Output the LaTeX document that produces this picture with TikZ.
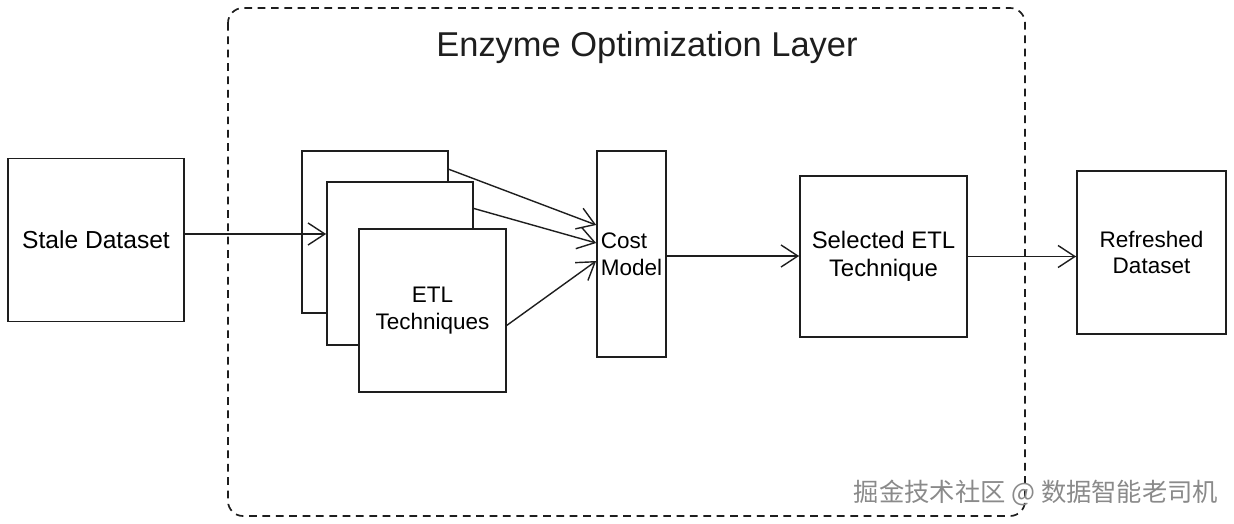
\documentclass[tikz,border=0pt]{standalone}
\usepackage{fontspec}
\setmainfont{Liberation Sans}
\newfontfamily\cjkfont{Noto Sans CJK SC}
\usetikzlibrary{arrows.meta,calc}
\definecolor{InkBlack}{HTML}{1E1E1E}
\definecolor{MarkGray}{HTML}{8A8A8A}
\tikzset{
  sbox/.style={rectangle,draw=InkBlack,line width=1.2pt,fill=white,
               font=\fontsize{16}{19}\selectfont,align=center,inner sep=2pt},
  arr/.style={-{Straight Barb[length=0.42cm,width=0.55cm,line width=1pt]},
              line width=1pt,color=InkBlack},
}
\begin{document}
\begin{tikzpicture}[x=0.025cm,y=-0.025cm]
  \useasboundingbox (0,0) rectangle (1234,524);

  \draw[InkBlack,line width=1.2pt,dash pattern=on 5.5pt off 4pt,rounded corners=0.375cm]
    (228,8) rectangle (1025,516);
  \node[font=\fontsize{24.5}{28}\selectfont,color=InkBlack] (title) at (647,48){Enzyme Optimization Layer};

  \node[sbox,font=\fontsize{17.5}{21}\selectfont,minimum width=4.4cm,minimum height=4.075cm] (stale) at (96,240){Stale Dataset};

  \node[sbox,minimum width=3.65cm,minimum height=4.05cm]  (etlA) at (375,232){};
  \node[sbox,minimum width=3.65cm,minimum height=4.075cm] (etlB) at (400,263.5){};
  \node[sbox,minimum width=3.675cm,minimum height=4.075cm] (etlC) at (432.5,310.5){ETL\\Techniques};

  \node[sbox,align=left,minimum width=1.725cm,minimum height=5.15cm] (cost) at (631.5,254){Cost\\Model};
  \node[sbox,font=\fontsize{17}{20}\selectfont,minimum width=4.175cm,minimum height=4.025cm] (select) at (883.5,256.5){Selected ETL\\Technique};
  \node[sbox,minimum width=3.725cm,minimum height=4.075cm] (fresh) at (1151.5,252.5){Refreshed\\Dataset};

  \draw[arr] ([yshift=0.15cm]stale.east) -- ([yshift=0.15cm]stale.east -| etlB.west);
  \draw[arr] ($(etlA.north east)!0.117!(etlA.south east)$) -- ([yshift=0.725cm]cost.west);
  \draw[arr] ($(etlB.north east)!0.166!(etlB.south east)$) -- ([yshift=0.275cm]cost.west);
  \draw[arr] ($(etlC.north east)!0.59!(etlC.south east)$) -- ([yshift=-0.175cm]cost.west);
  \draw[arr] ([yshift=-0.05cm]cost.east) -- ([yshift=-0.05cm]cost.east -| select.west);
  \draw[arr,line width=1.2pt] (select.east) -- (select.east -| fresh.west);

  \node[font=\cjkfont\fontsize{18}{21}\selectfont,color=MarkGray] (mark) at (1036,493){掘金技术社区 @ 数据智能老司机};

\end{tikzpicture}
\end{document}
